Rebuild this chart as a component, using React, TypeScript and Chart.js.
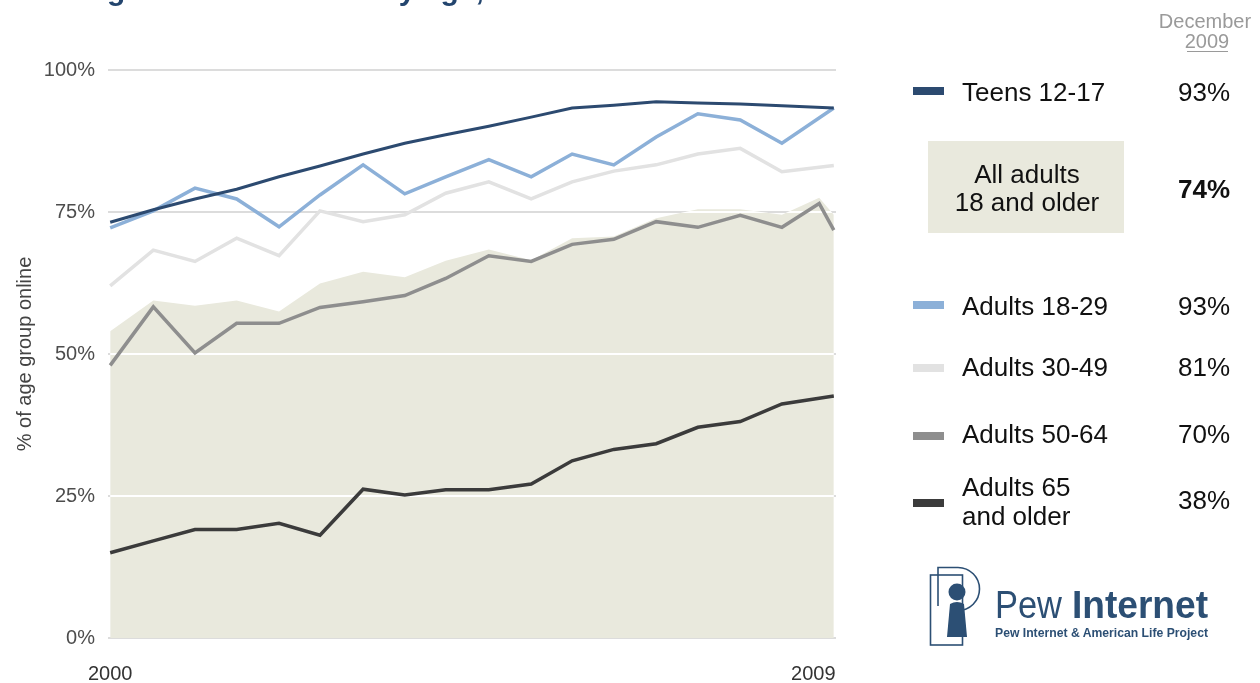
import React, { useEffect, useRef } from "react";
import { Chart, registerables } from "chart.js";

Chart.register(...registerables);

// Survey dates (decimal years), one extra late-2009 survey only for some series
const surveyDates = [2000.0, 2000.59, 2001.16, 2001.73, 2002.31, 2002.87, 2003.46, 2004.03, 2004.59, 2005.18, 2005.76, 2006.32, 2006.89, 2007.47, 2008.04, 2008.62, 2009.19, 2009.7, 2009.9];

const teens12_17 = [73.2, 75.4, 77.3, 79.0, 81.2, 83.1, 85.2, 87.1, 88.6, 90.1, 91.7, 93.3, 93.8, 94.4, 94.2, 94.0, 93.7, null, 93.3];
const adults18_29 = [72.2, 75.2, 79.2, 77.3, 72.4, 78.0, 83.3, 78.2, 81.2, 84.2, 81.2, 85.2, 83.3, 88.2, 92.3, 91.2, 87.1, null, 93.3];
const adults30_49 = [62.0, 68.3, 66.3, 70.4, 67.3, 75.2, 73.3, 74.5, 78.3, 80.3, 77.3, 80.3, 82.2, 83.3, 85.2, 86.2, 82.1, null, 83.2];
const adults50_64 = [48.0, 58.3, 50.2, 55.4, 55.4, 58.2, 59.2, 60.3, 63.3, 67.3, 66.3, 69.3, 70.2, 73.3, 72.3, 74.4, 72.3, 76.5, 71.8];
const adults65plus = [15.0, 17.1, 19.1, 19.1, 20.2, 18.1, 26.2, 25.2, 26.1, 26.1, 27.1, 31.2, 33.2, 34.2, 37.1, 38.1, 41.2, null, 42.6];
const allAdults = [54.0, 59.4, 58.5, 59.4, 57.5, 62.4, 64.5, 63.5, 66.4, 68.4, 66.5, 70.4, 70.7, 73.9, 75.5, 75.5, 74.5, 77.5, 74.5];

const xTickValues = [2000, 2009.62];
const xTickLabels = ["2000", "2009"];
const yTickValues = [0, 25, 50, 75, 100];

const legendLabels = ["Teens 12-17", "All adults\n18 and older", "Adults 18-29", "Adults 30-49", "Adults 50-64", "Adults 65\nand older"];
const december2009 = ["93%", "74%", "93%", "81%", "70%", "38%"];

const FONT = "'Liberation Sans', Arial, Helvetica, sans-serif";
const NAVY = "#2c4a70";
const BLUE = "#8cb0d8";
const LIGHT = "#e2e2e2";
const MID = "#8e8e8e";
const DARK = "#3b3b3b";
const BEIGE = "#e9e9dd";
const LOGO = "#2c4f74";

const toPoints = (vals: (number | null)[]) => surveyDates.map((x, i) => ({ x, y: vals[i] }));

const AREA_INDEX = 5;

const areaGridPlugin = {
  id: "areaGrid",
  afterDatasetDraw(chart: any, args: any) {
    if (args.index !== AREA_INDEX) return;
    const pts = args.meta.data;
    const { ctx, chartArea } = chart;
    const y = chart.scales.y;
    const base = y.getPixelForValue(0);
    ctx.save();
    ctx.beginPath();
    ctx.moveTo(pts[0].x, base);
    pts.forEach((p: any) => ctx.lineTo(p.x, p.y));
    ctx.lineTo(pts[pts.length - 1].x, base);
    ctx.closePath();
    ctx.clip();
    ctx.strokeStyle = "#ffffff";
    ctx.lineWidth = 2;
    yTickValues.forEach((v) => {
      if (v <= 0) return;
      const py = Math.round(y.getPixelForValue(v));
      ctx.beginPath();
      ctx.moveTo(chartArea.left, py);
      ctx.lineTo(chartArea.right, py);
      ctx.stroke();
    });
    ctx.restore();
  },
};

function lineDs(label: string, vals: (number | null)[], color: string, width = 3) {
  return {
    label,
    data: toPoints(vals),
    borderColor: color,
    backgroundColor: color,
    borderWidth: width,
    pointRadius: 0,
    tension: 0,
    spanGaps: true,
    fill: false,
  };
}

export default function App() {
  const ref = useRef<HTMLCanvasElement | null>(null);

  useEffect(() => {
    if (!ref.current) return;
    Chart.defaults.font.family = FONT;
    const chart = new Chart(ref.current, {
      type: "line",
      data: {
        datasets: [
          lineDs("Teens 12-17", teens12_17, NAVY, 3),
          lineDs("Adults 18-29", adults18_29, BLUE, 3.5),
          lineDs("Adults 30-49", adults30_49, LIGHT, 3.5),
          lineDs("Adults 50-64", adults50_64, MID, 3.5),
          lineDs("Adults 65 and older", adults65plus, DARK, 3.5),
          {
            label: "All adults 18 and older",
            data: toPoints(allAdults),
            borderWidth: 0,
            borderColor: BEIGE,
            backgroundColor: BEIGE,
            pointRadius: 0,
            tension: 0,
            fill: "origin",
          } as any,
        ],
      },
      options: {
        responsive: false,
        animation: false,
        events: [],
        layout: { padding: { left: 0, right: 44, top: 70, bottom: 0 } },
        plugins: { legend: { display: false }, tooltip: { enabled: false } },
        scales: {
          x: {
            type: "linear",
            min: 1999.97,
            max: 2009.93,
            grid: { display: false, drawTicks: false },
            border: { display: false },
            afterBuildTicks: (scale: any) => {
              scale.ticks = xTickValues.map((v) => ({ value: v }));
            },
            afterFit: (scale: any) => {
              scale.height = 45;
            },
            ticks: {
              autoSkip: false,
              maxRotation: 0,
              padding: 24,
              color: "#333333",
              font: { size: 20, family: FONT },
              callback: (_v: any, i: number) => xTickLabels[i],
            },
          },
          y: {
            min: 0,
            max: 100,
            grid: { color: "#dcdcdc", lineWidth: 2, drawTicks: false },
            border: { display: false },
            afterBuildTicks: (scale: any) => {
              scale.ticks = yTickValues.map((v) => ({ value: v }));
            },
            afterFit: (scale: any) => {
              scale.width = 108;
            },
            ticks: {
              padding: 13,
              color: "#4d4d4d",
              font: { size: 20, family: FONT },
              callback: (v: any) => v + "%",
            },
            title: {
              display: true,
              text: "% of age group online",
              color: "#444444",
              font: { size: 20, family: FONT },
              padding: { top: 13, bottom: 0 },
            },
          },
        },
      },
      plugins: [areaGridPlugin],
    } as any);
    return () => chart.destroy();
  }, []);

  const rowY = [101, 0, 315, 376, 443, 496];
  const swatchY = [91, 0, 305, 368, 436, 503];
  const swatchColors = [NAVY, "", BLUE, LIGHT, MID, DARK];
  const valueY = [101, 198, 315, 376, 443, 509];

  return (
    <div style={{ position: "fixed", left: 0, top: 0, width: 1260, height: 683, background: "#fff", overflow: "hidden" }}>
      <canvas ref={ref} width={880} height={683} style={{ position: "absolute", left: 0, top: 0, width: 880, height: 683 }} />
      <svg width={1260} height={683} style={{ position: "absolute", left: 0, top: 0, pointerEvents: "none" }} fontFamily={FONT}>
        <text x={32} y={0} fontSize={30} fontWeight="bold" fill="#23456e">
          Changes in internet use by age, 2000-2009
        </text>

        <text x={1205} y={28} fontSize={20} fill="#9a9a9a" textAnchor="middle">December</text>
        <text x={1207} y={48} fontSize={20} fill="#9a9a9a" textAnchor="middle">2009</text>
        <line x1={1187} x2={1228} y1={51.5} y2={51.5} stroke="#9a9a9a" strokeWidth={1} />

        <rect x={928} y={141} width={196} height={92} fill={BEIGE} />

        {legendLabels.map((lab, i) => {
          const lines = lab.split("\n");
          if (i === 1) {
            return (
              <g key={i}>
                <text x={1027} y={183} fontSize={26} fill="#111" textAnchor="middle">{lines[0]}</text>
                <text x={1027} y={211} fontSize={26} fill="#111" textAnchor="middle">{lines[1]}</text>
              </g>
            );
          }
          return (
            <g key={i}>
              <rect x={913} y={swatchY[i] - 4} width={31} height={8} fill={swatchColors[i]} />
              {lines.map((ln, j) => (
                <text key={j} x={962} y={rowY[i] + j * 29} fontSize={26} fill="#111">{ln}</text>
              ))}
            </g>
          );
        })}
        {december2009.map((v, i) => (
          <text key={i} x={1178} y={valueY[i]} fontSize={26} fill="#111" fontWeight={i === 1 ? "bold" : "normal"}>{v}</text>
        ))}

        <g fill="none" stroke={LOGO} strokeWidth={1.6}>
          <rect x={930.5} y={575} width={32} height={70} />
          <path d="M 938 606 V 567.5 H 958 A 21.5 21.5 0 0 1 958 610.5" />
        </g>
        <circle cx={957} cy={592} r={8.5} fill={LOGO} />
        <path d="M 950 604 Q 957 600 964 604 L 967 637 L 947 637 Z" fill={LOGO} />
        <text x={995} y={618} fontSize={39} fill={LOGO} textLength={67} lengthAdjust="spacingAndGlyphs">Pew</text>
        <text x={1072} y={618} fontSize={39} fontWeight="bold" fill={LOGO} textLength={136} lengthAdjust="spacingAndGlyphs">Internet</text>
        <text x={995} y={637} fontSize={12} fontWeight="bold" fill={LOGO} textLength={213} lengthAdjust="spacingAndGlyphs">Pew Internet &amp; American Life Project</text>
      </svg>
    </div>
  );
}
